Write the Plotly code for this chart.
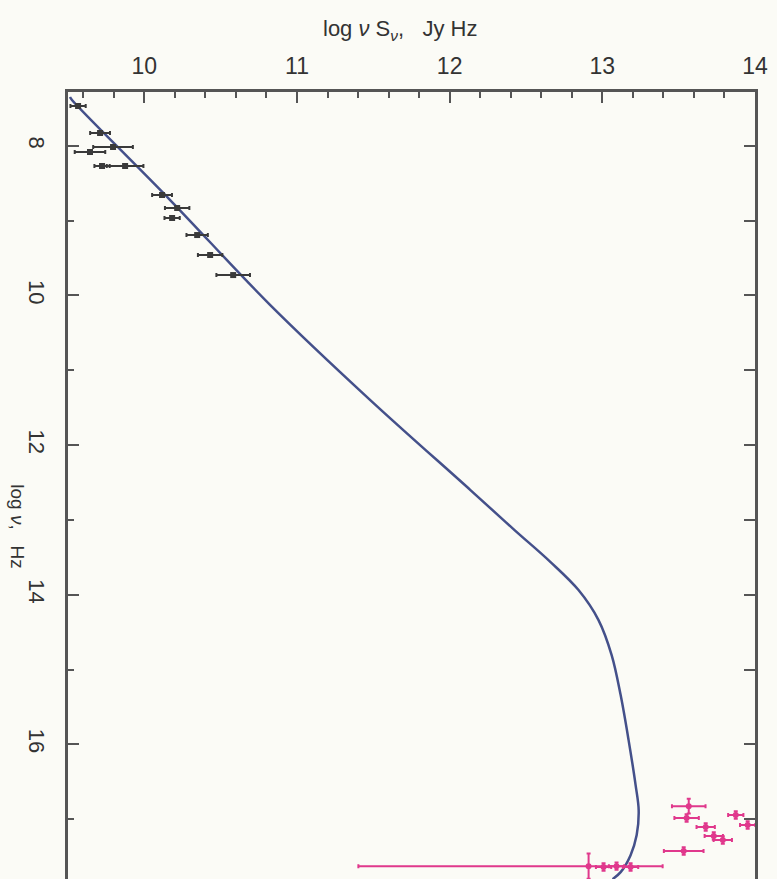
import plotly.graph_objects as go

# Model curve (log nu vs log nu*S_nu)
model_lognu = [7.347, 7.387, 8.724, 10.128, 11.398, 12.601, 13.136, 13.564, 13.938, 14.339,
               14.807, 15.342, 15.943, 16.545, 16.879, 17.213, 17.481, 17.708, 17.802]
model_lognuSnu = [9.513, 9.526, 10.169, 10.825, 11.480, 12.136, 12.425, 12.661, 12.844, 12.975,
                  13.061, 13.120, 13.172, 13.218, 13.238, 13.225, 13.185, 13.120, 13.067]

# Radio data
radio_lognu = [7.467, 7.828, 8.015, 8.082, 8.269, 8.269, 8.657, 8.831, 8.964, 9.192, 9.459, 9.727]
radio_lognuSnu = [9.566, 9.710, 9.795, 9.644, 9.723, 9.874, 10.116, 10.215, 10.182, 10.346, 10.431, 10.582]
radio_err = [0.05, 0.065, 0.13, 0.10, 0.05, 0.12, 0.065, 0.08, 0.05, 0.07, 0.08, 0.11]

# X-ray / UV data
xray_lognu = [17.628, 17.641, 17.628, 17.641, 17.427, 16.826, 16.986, 17.106, 17.226, 17.280, 16.946, 17.079]
xray_lognuSnu = [12.910, 13.008, 13.093, 13.185, 13.533, 13.566, 13.552, 13.677, 13.730, 13.789, 13.874, 13.952]
xray_err_plus = [0.485, 0.05, 0.05, 0.05, 0.13, 0.11, 0.08, 0.06, 0.06, 0.06, 0.05, 0.05]
xray_err_minus = [1.508, 0.05, 0.05, 0.05, 0.13, 0.11, 0.08, 0.06, 0.06, 0.06, 0.05, 0.05]
xray_err_y = [0.17, 0.05, 0.05, 0.05, 0.05, 0.10, 0.05, 0.05, 0.05, 0.05, 0.05, 0.05]

x_ticks = [10, 11, 12, 13, 14]
y_ticks = [8, 10, 12, 14, 16]

axis_col = "#555555"
text_col = "#333333"
font_fam = "Liberation Sans, Arial, sans-serif"

fig = go.Figure()
fig.add_trace(go.Scatter(
    x=model_lognuSnu, y=model_lognu, mode="lines",
    line=dict(color="#44508a", width=2.5, shape="spline", smoothing=1.0),
    hoverinfo="skip", showlegend=False))
fig.add_trace(go.Scatter(
    x=radio_lognuSnu, y=radio_lognu, mode="markers",
    marker=dict(symbol="square", size=6, color="#3a3a3a"),
    error_x=dict(type="data", array=radio_err, color="#3a3a3a", thickness=2, width=2),
    showlegend=False))
fig.add_trace(go.Scatter(
    x=xray_lognuSnu, y=xray_lognu, mode="markers",
    marker=dict(symbol="circle", size=6, color="#e0388c"),
    error_x=dict(type="data", symmetric=False, array=xray_err_plus, arrayminus=xray_err_minus,
                 color="#e0388c", thickness=2, width=2),
    error_y=dict(type="data", array=xray_err_y, color="#e0388c", thickness=2, width=2),
    showlegend=False))
# invisible trace for right axis
fig.add_trace(go.Scatter(x=[None], y=[None], yaxis="y2", showlegend=False))

fig.update_layout(
    width=777, height=879,
    margin=dict(l=68, r=22, t=92, b=0),
    paper_bgcolor="#fbfbf6", plot_bgcolor="#fbfbf6",
    font=dict(family=font_fam, color=text_col),
    xaxis=dict(side="top", range=[9.5, 14], tickvals=x_ticks,
               ticktext=[str(v) for v in x_ticks],
               ticks="inside", ticklen=11, tickwidth=2, tickcolor=axis_col,
               minor=dict(dtick=0.2, tick0=9.6, ticks="inside", ticklen=6, tickwidth=2, tickcolor=axis_col),
               showline=True, linecolor=axis_col, linewidth=2.5, mirror=False,
               showgrid=False, zeroline=False,
               tickfont=dict(size=23, color=text_col), ticklabelstandoff=6),
    yaxis=dict(range=[17.8, 7.28], tickvals=y_ticks,
               ticktext=[str(v) for v in y_ticks], tickangle=90,
               ticks="inside", ticklen=11, tickwidth=2, tickcolor=axis_col,
               minor=dict(dtick=1, tick0=9, ticks="inside", ticklen=6, tickwidth=2, tickcolor=axis_col),
               showline=True, linecolor=axis_col, linewidth=2.5,
               showgrid=False, zeroline=False,
               tickfont=dict(size=22, color=text_col), ticklabelstandoff=10),
    yaxis2=dict(range=[17.8, 7.28], overlaying="y", side="right", dtick=1, tick0=8,
                ticks="inside", ticklen=11, tickwidth=2, tickcolor=axis_col,
                showticklabels=False, showline=True, linecolor=axis_col, linewidth=2.5,
                showgrid=False, zeroline=False),
    annotations=[
        dict(text="log <i>ν</i> S<sub><i>ν</i></sub>,   Jy Hz", xref="paper", yref="paper",
             x=0.483, y=1.079, showarrow=False, font=dict(size=22, color=text_col),
             xanchor="center", yanchor="middle"),
        dict(text="log <i>ν</i>,   Hz", xref="paper", yref="paper",
             x=-0.074, y=0.448, showarrow=False, textangle=90,
             font=dict(size=19, color=text_col), xanchor="center", yanchor="middle"),
    ],
)

fig.write_html("out.html")
